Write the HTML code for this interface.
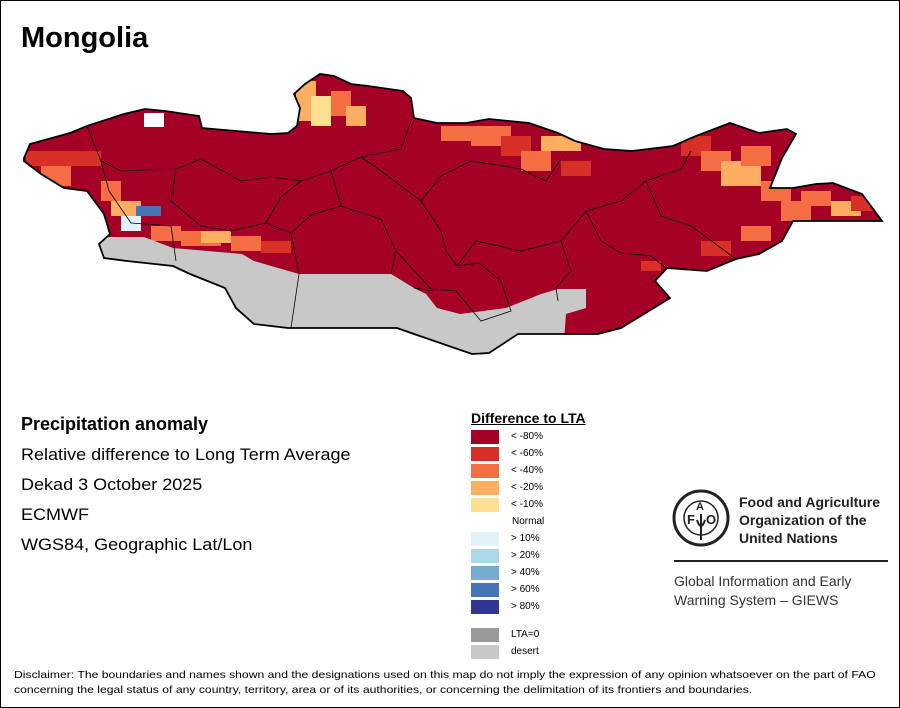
<!DOCTYPE html>
<html><head><meta charset="utf-8"><style>
body{margin:0;background:#fff}
#root{position:relative;width:898px;height:706px;border:1px solid #000;overflow:hidden;font-family:"Liberation Sans",Arial,sans-serif;color:#000}
.t{position:absolute;white-space:nowrap}
.sw{position:absolute;left:470px;width:28px;height:14px}
.lb{position:absolute;left:510px;font-size:10px}
</style></head><body>
<div id="root">
<div class="t" style="left:20px;top:21px;font-size:29px;font-weight:bold">Mongolia</div>

<svg width="900" height="400" style="position:absolute;left:0;top:0">
<defs><clipPath id="cp"><polygon points="23,157 29,143 69,132 86,125 123,113 144,108 164,110 198,115 201,127 235,130 270,133 287,132 296,125 299,107 293,93 304,83 319,73 333,75 350,83 367,85 402,90 410,97 413,117 436,122 465,122 488,118 528,122 557,132 574,140 603,148 631,150 672,145 695,135 729,122 758,132 786,128 795,133 781,157 769,187 792,187 815,183 832,182 861,193 881,220 861,220 792,220 781,240 758,253 735,258 706,270 666,267 654,280 669,297 643,313 620,327 597,333 545,333 517,333 488,352 471,353 413,333 396,327 344,327 287,327 253,323 235,307 224,287 189,273 172,265 126,260 103,257 98,243 109,233 103,213 86,190 63,187 40,173 23,160"/></clipPath></defs>
<g clip-path="url(#cp)">
<rect x="0" y="0" width="900" height="400" fill="#a50026"/>
<g id="patches"></g>
<polygon fill="#c8c8c8" points="98,236 143,236 172,247 241,253 253,260 298,273 390,273 413,287 425,293 436,307 459,313 505,307 540,293 557,288 585,288 585,307 565,313 563,340 545,360 400,360 200,360 90,300"/>
</g>
<polygon points="23,157 29,143 69,132 86,125 123,113 144,108 164,110 198,115 201,127 235,130 270,133 287,132 296,125 299,107 293,93 304,83 319,73 333,75 350,83 367,85 402,90 410,97 413,117 436,122 465,122 488,118 528,122 557,132 574,140 603,148 631,150 672,145 695,135 729,122 758,132 786,128 795,133 781,157 769,187 792,187 815,183 832,182 861,193 881,220 861,220 792,220 781,240 758,253 735,258 706,270 666,267 654,280 669,297 643,313 620,327 597,333 545,333 517,333 488,352 471,353 413,333 396,327 344,327 287,327 253,323 235,307 224,287 189,273 172,265 126,260 103,257 98,243 109,233 103,213 86,190 63,187 40,173 23,160" fill="none" stroke="#000" stroke-width="1.8"/>
<g fill="none" stroke="#000" stroke-width="0.8">
<polyline points="86,125 100,160 120,170 175,168 200,158 240,180 270,176 300,180 330,170 360,156 400,148 410,120"/>
<polyline points="100,160 108,190 130,222 170,225 175,260"/>
<polyline points="175,168 170,200 200,225 230,230 265,222 290,232 298,273 290,327"/>
<polyline points="265,222 280,196 300,180"/>
<polyline points="290,232 310,214 340,205 380,218 395,250 390,273"/>
<polyline points="330,170 340,205"/>
<polyline points="360,156 380,170 420,200 440,175 470,160 520,168 545,180 560,158"/>
<polyline points="420,200 440,230 445,250 456,265 478,262 500,280 510,310 480,320 455,290 430,288 395,250"/>
<polyline points="456,265 475,240 520,250 560,240 585,210 620,200 645,180 680,168 690,150"/>
<polyline points="560,240 570,270 555,287 557,300"/>
<polyline points="585,210 600,240 620,252 650,255 665,267"/>
<polyline points="645,180 660,215 690,225 735,258"/>
<polyline points="413,287 432,290"/>
</g>
</svg>

<div class="t" style="left:20px;top:413px;font-size:18px;font-weight:bold">Precipitation anomaly</div>
<div class="t" style="left:20px;top:444px;font-size:17px;transform:scaleX(1.06);transform-origin:left">Relative difference to Long Term Average</div>
<div class="t" style="left:20px;top:474px;font-size:17px;transform:scaleX(1.06);transform-origin:left">Dekad 3 October 2025</div>
<div class="t" style="left:20px;top:504px;font-size:17px;transform:scaleX(1.06);transform-origin:left">ECMWF</div>
<div class="t" style="left:20px;top:534px;font-size:17px;transform:scaleX(1.06);transform-origin:left">WGS84, Geographic Lat/Lon</div>

<div class="t" style="left:470px;top:409px;font-size:14px;font-weight:bold;text-decoration:underline">Difference to LTA</div>
<div id="legend"></div>

<svg width="60" height="60" style="position:absolute;left:670px;top:487px">
<circle cx="30" cy="30" r="27" fill="none" stroke="#222" stroke-width="3"/>
<circle cx="30" cy="30" r="17" fill="none" stroke="#222" stroke-width="1.5"/>
<text x="16" y="36" font-size="13" font-weight="bold" font-family="Liberation Sans" fill="#222">F</text>
<text x="25" y="22" font-size="11" font-weight="bold" font-family="Liberation Sans" fill="#222">A</text>
<text x="35" y="36" font-size="13" font-weight="bold" font-family="Liberation Sans" fill="#222">O</text>
<path d="M30 26 L30 52 M26 32 Q30 44 34 32" stroke="#222" stroke-width="2" fill="none"/>
</svg>
<div class="t" style="left:738px;top:492px;font-size:14px;font-weight:bold;line-height:18px;color:#222">Food and Agriculture<br>Organization of the<br>United Nations</div>
<div style="position:absolute;left:673px;top:559px;width:214px;height:2px;background:#222"></div>
<div class="t" style="left:673px;top:571px;font-size:14px;line-height:19px;color:#333">Global Information and Early<br>Warning System – GIEWS</div>

<div class="t" style="left:13px;top:667px;font-size:10.5px;line-height:15px;transform:scaleX(1.16);transform-origin:left">Disclaimer: The boundaries and names shown and the designations used on this map do not imply the expression of any opinion whatsoever on the part of FAO<br>concerning the legal status of any country, territory, area or of its authorities, or concerning the delimitation of its frontiers and boundaries.</div>
</div>
<script>
const legendLabels=["< -80%","< -60%","< -40%","< -20%","< -10%","Normal","> 10%","> 20%","> 40%","> 60%","> 80%","LTA=0","desert"];
const legendColors=["#a50026","#d73027","#f46d43","#fdae61","#fee090","none","#e0f3f8","#abd9e9","#74add1","#4575b4","#313695","#999999","#c8c8c8"];
const legendTops=[429,446,463,480,497,514,531,548,565,582,599,627,644];
const lg=document.getElementById('legend');
legendLabels.forEach((l,i)=>{
 if(legendColors[i]!=="none"){const s=document.createElement('div');s.className='sw';s.style.top=legendTops[i]+'px';s.style.background=legendColors[i];
 
 
 lg.appendChild(s);}
 const t=document.createElement('div');t.className='lb';t.style.top=(legendTops[i]+1)+'px';t.textContent=l;
 if(l==="Normal")t.style.left='511px';
 
 
 lg.appendChild(t);
});
const patchX=[25,40,60,100,110,120,135,150,180,200,230,260,295,310,330,345,440,470,500,520,540,560,680,700,720,740,760,780,800,830,850,740,700,640,143];
const patchY=[150,165,150,180,200,215,205,225,230,230,235,240,80,95,90,105,125,125,135,150,135,160,135,150,160,145,180,200,190,200,195,225,240,260,112];
const patchW=[40,30,40,20,30,20,25,30,40,30,30,30,20,20,20,20,30,40,30,30,40,30,30,30,40,30,30,30,30,30,25,30,30,20,20];
const patchH=[15,20,15,20,15,15,10,15,15,12,15,12,40,30,25,20,15,20,20,20,15,15,20,20,25,20,20,20,15,15,15,15,15,10,14];
const patchC=[1,2,1,2,3,6,9,2,2,3,2,1,3,4,2,3,2,2,1,2,3,1,1,2,3,2,2,2,2,3,1,2,1,1,5];
const patchFill=["#a50026","#d73027","#f46d43","#fdae61","#fee090","#ffffff","#e0f3f8","#abd9e9","#74add1","#4575b4","#313695"];
const pg=document.getElementById('patches');
patchX.forEach((x,i)=>{
 const r=document.createElementNS('http://www.w3.org/2000/svg','rect');
 r.setAttribute('x',x);r.setAttribute('y',patchY[i]);r.setAttribute('width',patchW[i]);r.setAttribute('height',patchH[i]);
 r.setAttribute('fill',patchFill[patchC[i]]);
 
 
 pg.appendChild(r);
});
</script>
</body></html>
